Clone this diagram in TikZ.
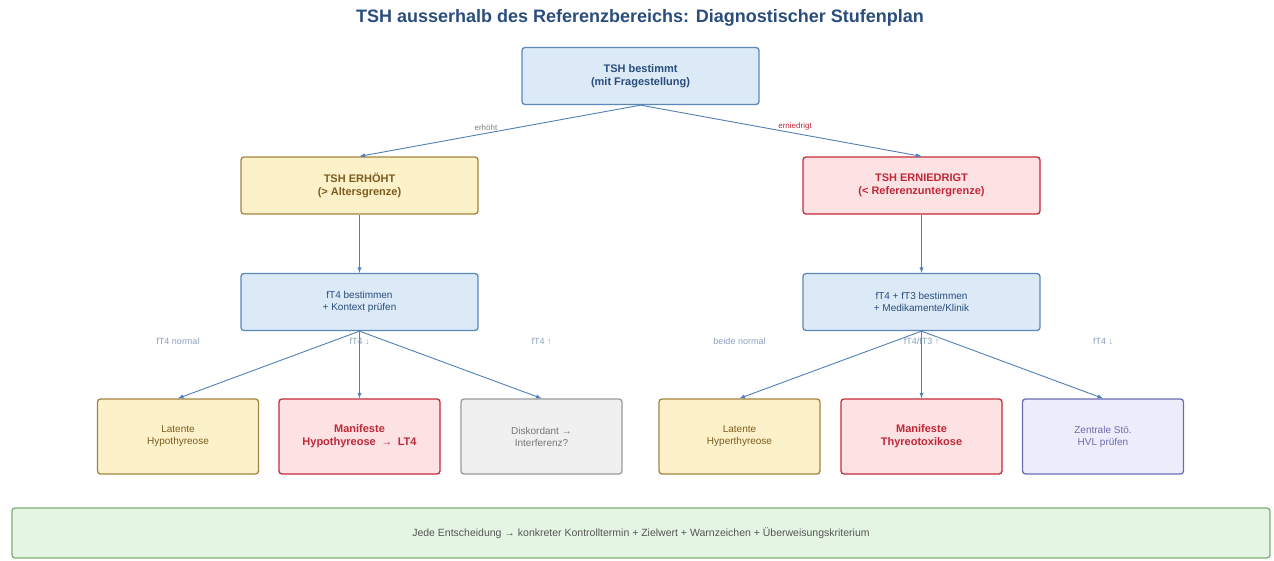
\documentclass[tikz,border=0pt]{standalone}
\usepackage{fontspec}
\setmainfont{Liberation Sans}
\usepackage{tikz}
\usetikzlibrary{calc,arrows.meta}

\definecolor{bluefill}{HTML}{DCE9F7}
\definecolor{blueline}{HTML}{5B87BD}
\definecolor{bluetext}{HTML}{2A4D7C}
\definecolor{yelfill}{HTML}{FDF1C9}
\definecolor{yelline}{HTML}{A3843F}
\definecolor{yeltext}{HTML}{7C5D1E}
\definecolor{redfill}{HTML}{FDE2E3}
\definecolor{redline}{HTML}{C42B3A}
\definecolor{redtext}{HTML}{C0283A}
\definecolor{greyfill}{HTML}{F0F0F0}
\definecolor{greyline}{HTML}{9A9A9A}
\definecolor{greytext}{HTML}{777777}
\definecolor{violfill}{HTML}{ECECFA}
\definecolor{violline}{HTML}{6C6CB4}
\definecolor{violtext}{HTML}{6C6CB0}
\definecolor{greenfill}{HTML}{E5F5E3}
\definecolor{greenline}{HTML}{7CAE78}
\definecolor{greentext}{HTML}{555555}
\definecolor{arrowcol}{HTML}{4F7FB5}
\definecolor{labcol}{HTML}{8AA0C0}

\tikzset{
  box/.style={draw, rounded corners=3pt, line width=1.3pt, align=center,
    minimum width=237pt, minimum height=57pt, font=\fontsize{10}{12}\selectfont},
  leaf/.style={box, minimum width=161pt, minimum height=75pt},
  bold/.style={font=\fontsize{11}{13}\selectfont\bfseries},
  cblue/.style={fill=bluefill, draw=blueline, text=bluetext},
  cyel/.style={fill=yelfill, draw=yelline, text=yeltext},
  cred/.style={fill=redfill, draw=redline, text=redtext},
  cgrey/.style={fill=greyfill, draw=greyline, text=greytext},
  cviol/.style={fill=violfill, draw=violline, text=violtext},
  conn/.style={draw=arrowcol, line width=0.9pt, -latex},
  elab/.style={font=\fontsize{9}{10}\selectfont, text=labcol},
}

\begin{document}
\begin{tikzpicture}[x=1pt,y=-1pt]
  \useasboundingbox (0,0) rectangle (1274,560);

  %% Title
  \node[font=\fontsize{18}{20}\selectfont\bfseries, text=bluetext] (TITLE) at (640,18)
    {TSH ausserhalb des Referenzbereichs: Diagnostischer Stufenplan};

  %% First two levels
  \node[box,bold,cblue] (START) at (640.5,76) {TSH bestimmt\\(mit Fragestellung)};
  \node[box,bold,cyel]  (HIGH)  at (359.5,185.5) {TSH ERHÖHT\\(> Altersgrenze)};
  \node[box,bold,cred]  (LOW)   at (921.5,185.5) {TSH ERNIEDRIGT\\(< Referenzuntergrenze)};
  \node[box,cblue] (TESTH) at (359.5,302) {fT4 bestimmen\\+ Kontext prüfen};
  \node[box,cblue] (TESTL) at (921.5,302) {fT4 + fT3 bestimmen\\+ Medikamente/Klinik};

  \draw[conn] (START.south) -- node[elab, font=\fontsize{8}{9}\selectfont, text=gray, pos=0.55, above=-1pt] {erhöht} (HIGH.north);
  \draw[conn] (START.south) -- node[elab, font=\fontsize{8}{9}\selectfont, text=redtext, pos=0.55, above=-1pt] {erniedrigt} (LOW.north);
  \draw[conn] (HIGH) -- (TESTH);
  \draw[conn] (LOW) -- (TESTL);

  %% Leaves
  \node[leaf,cyel]       (HA) at (178,436.5)   {Latente\\Hypothyreose};
  \node[leaf,bold,cred]  (HB) at (359.5,436.5) {Manifeste\\Hypothyreose\enspace→\enspace LT4};
  \node[leaf,cgrey]      (HC) at (541.5,436.5) {Diskordant →\\Interferenz?};
  \node[leaf,cyel]       (LA) at (739.5,436.5) {Latente\\Hyperthyreose};
  \node[leaf,bold,cred]  (LB) at (921.5,436.5) {Manifeste\\Thyreotoxikose};
  \node[leaf,cviol]      (LC) at (1103,436.5)  {Zentrale Stö.\\HVL prüfen};

  %% Connectors to the leaves with their conditions
  \foreach \p/\c/\t in {TESTH/HA/{fT4 normal}, TESTH/HB/{fT4 ↓}, TESTH/HC/{fT4 ↑},
                        TESTL/LA/{beide normal}, TESTL/LB/{fT4/fT3 ↑}, TESTL/LC/{fT4 ↓}}
  {
    \draw[conn] (\p.south) -- (\c.north);
    \node[elab] (LAB\c) at ($(\c.north |- \p.south)+(0,10)$) {\t};
  }

  %% Footer
  \node[draw=greenline, fill=greenfill, text=greentext, rounded corners=3pt, line width=1.3pt,
        minimum width=1258pt, minimum height=50pt, font=\fontsize{10.5}{12}\selectfont] (FOOT) at (641,533)
    {Jede Entscheidung → konkreter Kontrolltermin + Zielwert + Warnzeichen + Überweisungskriterium};
\end{tikzpicture}
\end{document}
